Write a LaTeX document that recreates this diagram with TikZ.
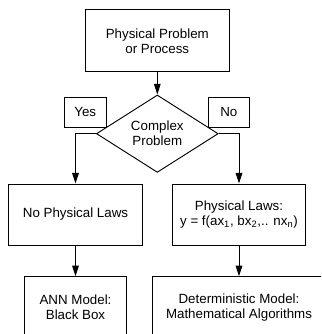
\documentclass[tikz,border=0pt]{standalone}
\usepackage{fontspec}
\setmainfont{Liberation Sans}
\usetikzlibrary{arrows.meta,shapes.geometric}

\tikzset{
  box/.style={draw,line width=0.7pt,align=center,inner sep=0pt,font=\fontsize{10}{11.25}\selectfont},
  decision/.style={box,diamond,fill=white},
  flow/.style={line width=0.7pt,-{Triangle[length=8pt,width=5pt]}}
}

\begin{document}
\begin{tikzpicture}[x=0.75pt,y=-0.75pt]
  \useasboundingbox (0,0) rectangle (321,334);
  \clip (0,0) rectangle (321,334);
  % answer tags first, the diamond covers their corners
  \node[box,minimum width=31.3pt,minimum height=22.5pt] (yes) at (85.2,112.3) {Yes};
  \node[box,minimum width=30.8pt,minimum height=22.5pt] (no) at (228.8,112.3) {No};
  \node[box,minimum width=107.5pt,minimum height=46.3pt] (problem) at (157.3,40.8) {Physical Problem\\or Process};
  \node[decision,minimum width=91.3pt,minimum height=53pt] (complex) at (157.3,133.7) {Complex\\Problem};
  \node[box,minimum width=100pt,minimum height=45.75pt] (nolaws) at (75.5,214.5) {No Physical Laws};
  \node[box,minimum width=100pt,minimum height=45.75pt] (laws) at (239,214.5) {Physical Laws:\\y = f(ax\textsubscript{1}, bx\textsubscript{2},.. nx\textsubscript{n})};
  \node[box,minimum width=77pt,minimum height=45.75pt] (ann) at (75.5,307.2) {ANN Model:\\Black Box};
  \node[box,minimum width=129.5pt,minimum height=45.75pt] (determ) at (239,307.2) {Deterministic Model:\\Mathematical Algorithms};
  % connectors
  \draw[flow] (problem) -- (complex);
  \draw[flow] (complex.west) -| (nolaws.north);
  \draw[flow] (complex.east) -| (laws.north);
  \draw[flow] (nolaws) -- (ann);
  \draw[flow] (laws) -- (determ);
\end{tikzpicture}
\end{document}
